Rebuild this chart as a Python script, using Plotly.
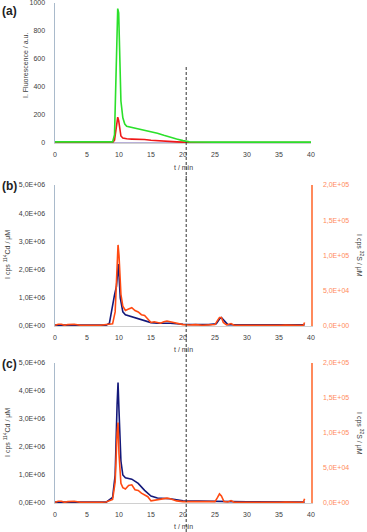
import plotly.graph_objects as go

# ---------------- data ----------------
a_t = [0, 2, 4, 6, 8, 9.0, 9.3, 9.5, 9.65, 9.8, 9.95, 10.1, 10.3, 10.6, 10.9, 11.2, 12, 13, 14, 15, 16, 17, 18, 19, 20, 20.5, 21, 25, 30, 35, 40]
a_green = [8, 8, 8, 8, 8, 8, 60, 450, 880, 960, 930, 600, 300, 180, 135, 120, 112, 105, 95, 80, 70, 55, 40, 28, 17, 12, 8, 6, 6, 6, 6]
a_red = [4, 4, 4, 4, 4, 4, 20, 100, 165, 185, 160, 90, 50, 36, 32, 30, 28, 28, 25, 20, 16, 13, 10, 8, 6, 5, 4, 4, 4, 4, 4]
a_grey = [2, 2, 2, 2, 2, 2, 4, 5, 5, 5, 5, 5, 5, 5, 5, 5, 5, 5, 5, 5, 5, 5, 5, 5, 4, 3, 2, 2, 2, 2, 2]

b_t_cd = [0, 2, 4, 6, 8, 8.5, 9.0, 9.3, 9.6, 9.9, 10.2, 10.6, 11, 13, 15, 16, 18, 20, 22, 24, 25.2, 25.7, 26.0, 26.4, 27, 30, 35, 39]
b_cd = [0.03, 0.03, 0.03, 0.03, 0.03, 0.1, 0.8, 1.1, 1.4, 2.2, 1.0, 0.5, 0.4, 0.25, 0.12, 0.1, 0.1, 0.06, 0.05, 0.05, 0.08, 0.25, 0.3, 0.2, 0.05, 0.04, 0.04, 0.04]

b_t_s = [0, 0.5, 1, 1.5, 2, 3, 4, 5, 6, 7, 8, 9, 9.4, 9.7, 9.85, 10.0, 10.3, 10.6, 11, 11.5, 12, 12.5, 13, 13.5, 14, 14.5, 15, 15.5, 16, 16.5, 17, 17.5, 18, 18.5, 19, 20, 21, 22, 23, 24, 25, 25.4, 25.7, 26.0, 26.3, 26.8, 27.5, 28, 30, 32, 35, 36, 38, 38.8, 39]
b_s = [1, 2.5, 2.5, 1, 2, 2.5, 1, 1.5, 1, 1, 1.5, 3, 20, 90, 115, 100, 45, 28, 22, 24, 26, 22, 20, 16, 15, 10, 5, 6, 5, 4, 6, 7, 6, 5, 3, 2, 1.5, 2, 1, 1.5, 2, 8, 12, 12, 5, 1.5, 3.5, 1, 1.5, 1, 1, 1.5, 1, 1, 5]

c_t_cd = [0, 4, 8, 9.0, 9.4, 9.7, 9.85, 10.0, 10.3, 10.6, 11, 12, 13, 14, 15, 16, 18, 20, 25, 30, 39]
c_cd = [0.03, 0.03, 0.03, 0.2, 1.0, 3.5, 4.3, 3.3, 1.5, 1.0, 0.9, 0.85, 0.7, 0.45, 0.25, 0.18, 0.15, 0.08, 0.05, 0.04, 0.03]

c_t_s = [0, 0.5, 1, 1.5, 2, 3, 4, 5, 6, 7, 8, 9, 9.4, 9.7, 9.85, 10.0, 10.3, 10.6, 11, 11.5, 12, 12.5, 13, 13.5, 14, 14.5, 15, 15.5, 16, 17, 17.5, 18, 19, 20, 21, 22, 23, 24, 25, 25.4, 25.7, 26.0, 26.4, 27, 27.5, 28, 30, 32, 35, 36, 38, 38.8, 39]
c_s = [1, 2.5, 2.5, 1, 2, 2.5, 1, 1.5, 1, 1, 1.5, 5, 30, 100, 115, 70, 28, 22, 20, 25, 26, 19, 18, 14, 12, 9, 3, 4, 5, 7, 7, 6, 3, 2, 2, 1.5, 1, 1.5, 2, 8, 13, 10, 2, 1.5, 3.5, 1, 1.5, 1, 1, 1.5, 1, 1, 6]

x_ticks = [0, 5, 10, 15, 20, 25, 30, 35, 40]
a_yticks = [0, 200, 400, 600, 800, 1000]
cd_ticks = [0, 1, 2, 3, 4, 5]
cd_labels = ["0,0E+00", "1,0E+06", "2,0E+06", "3,0E+06", "4,0E+06", "5,0E+06"]
s_ticks = [0, 50, 100, 150, 200]
s_labels = ["0,0E+00", "5,0E+04", "1,0E+05", "1,5E+05", "2,0E+05"]
dash_t = 20.5

# ---------------- style ----------------
W, H = 367, 532
GREEN = "#2BE02B"
RED = "#F01818"
GREY = "#B8B0D8"
NAVY = "#14197A"
ORANGE = "#FF4A12"
ORANGE_AX = "#FF8A5C"
AXC = "#A9BACB"
TXT = "#404040"
FONT = "Liberation Sans, Arial, sans-serif"

def py(px):
    return 1 - px / H

xdom = [55 / W, 311 / W]
dom_a = [py(143), py(3)]
dom_b = [py(326), py(185)]
dom_c = [py(503), py(363)]

fig = go.Figure()
lw = 1.6
fig.add_trace(go.Scatter(x=a_t, y=a_grey, mode="lines", line=dict(color=GREY, width=lw), xaxis="x", yaxis="y"))
fig.add_trace(go.Scatter(x=a_t, y=a_red, mode="lines", line=dict(color=RED, width=lw), xaxis="x", yaxis="y"))
fig.add_trace(go.Scatter(x=a_t, y=a_green, mode="lines", line=dict(color=GREEN, width=lw), xaxis="x", yaxis="y"))

fig.add_trace(go.Scatter(x=b_t_cd, y=b_cd, mode="lines", line=dict(color=NAVY, width=lw), xaxis="x2", yaxis="y2"))
fig.add_trace(go.Scatter(x=b_t_s, y=b_s, mode="lines", line=dict(color=ORANGE, width=lw), xaxis="x2", yaxis="y3"))

fig.add_trace(go.Scatter(x=c_t_cd, y=c_cd, mode="lines", line=dict(color=NAVY, width=lw), xaxis="x3", yaxis="y4"))
fig.add_trace(go.Scatter(x=c_t_s, y=c_s, mode="lines", line=dict(color=ORANGE, width=lw), xaxis="x3", yaxis="y5"))

tickfont = dict(family=FONT, size=7, color=TXT)

def xax(anchor):
    return dict(domain=xdom, range=[0, 40], anchor=anchor, tickvals=x_ticks, tickfont=tickfont,
                showgrid=False, zeroline=False, showline=True, linecolor="#D0D0D0", linewidth=1,
                ticks="", ticklabelstandoff=5, fixedrange=True, automargin=False,
                ticklabeloverflow="allow")

def yleft(dom, rng, tv, tt, anchor):
    return dict(domain=dom, range=rng, anchor=anchor, tickvals=tv, ticktext=tt, tickfont=tickfont,
                showgrid=False, zeroline=False, showline=True, linecolor=AXC, linewidth=1.5,
                ticks="", ticklabelstandoff=7, fixedrange=True, automargin=False,
                ticklabeloverflow="allow")

def yright(dom, overlay, anchor):
    return dict(domain=dom, range=[0, 200], overlaying=overlay, side="right", anchor=anchor,
                tickvals=s_ticks, ticktext=s_labels, tickfont=dict(family=FONT, size=7, color=ORANGE_AX),
                showgrid=False, zeroline=False, showline=True, linecolor=ORANGE_AX, linewidth=1.5,
                ticks="", ticklabelstandoff=9, fixedrange=True, automargin=False,
                ticklabeloverflow="allow")

fig.update_layout(
    width=W, height=H, margin=dict(l=0, r=0, t=0, b=0, autoexpand=False),
    paper_bgcolor="white", plot_bgcolor="white", showlegend=False,
    xaxis=xax("y"),
    yaxis=yleft(dom_a, [0, 1000], a_yticks, [str(v) for v in a_yticks], "x"),
    xaxis2=xax("y2"),
    yaxis2=yleft(dom_b, [0, 5], cd_ticks, cd_labels, "x2"),
    yaxis3=yright(dom_b, "y2", "x2"),
    xaxis3=xax("y4"),
    yaxis4=yleft(dom_c, [0, 5], cd_ticks, cd_labels, "x3"),
    yaxis5=yright(dom_c, "y4", "x3"),
)

ann = []
tfont = dict(family=FONT, size=7, color=TXT)
# panel letters
for lab, ypx in [("(a)", 11), ("(b)", 186), ("(c)", 364)]:
    ann.append(dict(text="<b>" + lab + "</b>", x=0 / W, y=py(ypx), xref="paper", yref="paper",
                    xanchor="left", yanchor="middle", showarrow=False,
                    font=dict(family=FONT, size=12, color="#222222")))
# x titles
for ypx in [167, 349, 526]:
    ann.append(dict(text="t / min", x=183 / W, y=py(ypx), xref="paper", yref="paper",
                    xanchor="center", yanchor="middle", showarrow=False, font=tfont))
# y titles
ann.append(dict(text="I. Fluorescence / a.u.", x=25 / W, y=py(66), xref="paper", yref="paper",
                textangle=-90, xanchor="center", yanchor="middle", showarrow=False, font=tfont))
for ymid in [255, 433]:
    ann.append(dict(text="I cps <sup>114</sup>Cd / μM", x=7 / W, y=py(ymid), xref="paper", yref="paper",
                    textangle=-90, xanchor="center", yanchor="middle", showarrow=False, font=tfont))
    ann.append(dict(text="I cps <sup>32</sup>S / μM", x=360 / W, y=py(ymid), xref="paper", yref="paper",
                    textangle=90, xanchor="center", yanchor="middle", showarrow=False, font=tfont))
fig.update_layout(annotations=ann)

# dashed marker lines at t = dash_t
fig.add_shape(type="line", xref="x", yref="paper", x0=dash_t, x1=dash_t, y0=py(180), y1=py(67),
              line=dict(color="#333333", width=1, dash="3px,2px"))
fig.add_shape(type="line", xref="x2", yref="paper", x0=dash_t, x1=dash_t, y0=py(532), y1=py(176),
              line=dict(color="#333333", width=1, dash="3px,2px"))

fig.write_html("out.html", config={"displayModeBar": False, "staticPlot": True},
               post_script="document.body.style.margin='0';document.body.style.overflow='hidden';")
